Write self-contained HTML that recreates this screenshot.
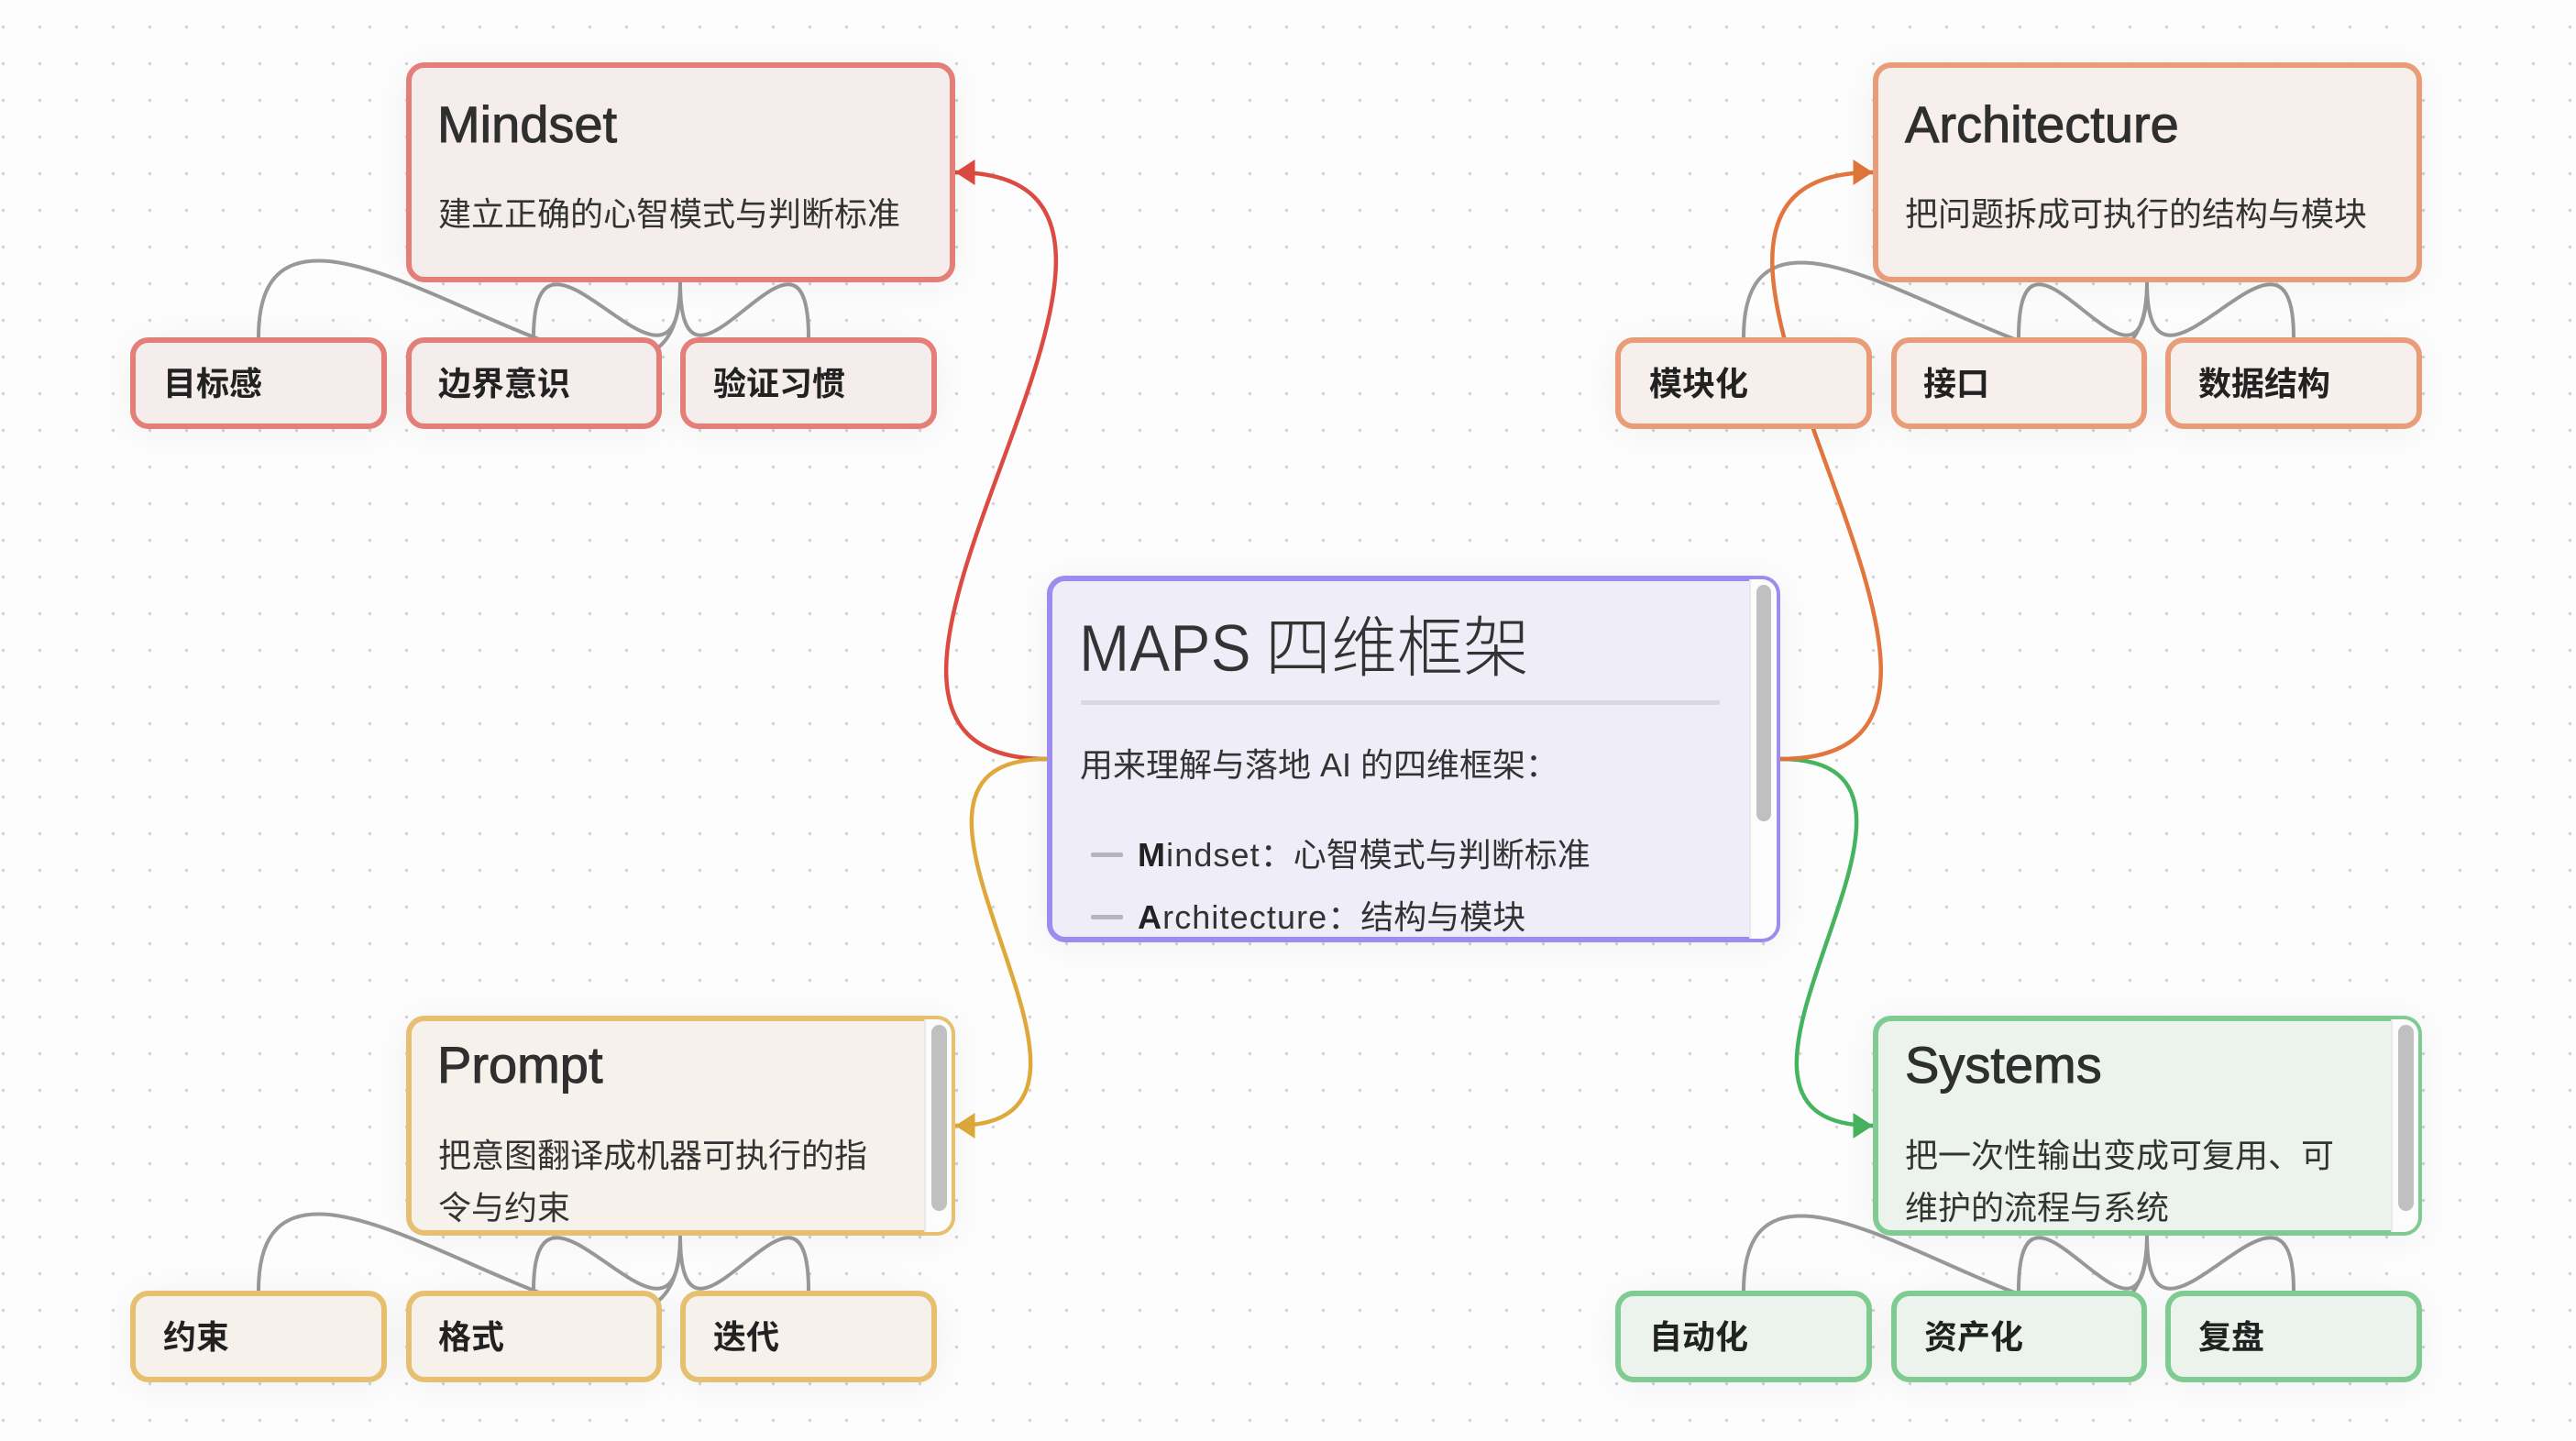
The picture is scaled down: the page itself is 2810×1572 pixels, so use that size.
<!DOCTYPE html>
<html lang="zh">
<head>
<meta charset="utf-8">
<title>MAPS 四维框架</title>
<style>
html,body{margin:0;padding:0;}
body{width:2810px;height:1572px;position:relative;overflow:hidden;background-color:#fdfdfd;
background-image:radial-gradient(circle,#d2d2d2 1.4px,rgba(210,210,210,0) 2px);background-size:40px 40px;background-position:-16.5px 9.5px;
font-family:"Liberation Sans","Noto Sans CJK SC",sans-serif;color:#333;}
svg.edges{position:absolute;left:0;top:0;}
.card{position:absolute;box-sizing:border-box;border:6px solid;border-radius:20px;box-shadow:0 4px 44px rgba(0,0,0,.055);z-index:2;}
.main{width:599px;height:240px;}
.sub{width:279px;height:100px;}
.clip{position:absolute;left:-2px;right:-2px;top:-2px;bottom:-2px;border-radius:16px;overflow:hidden;}
.track{position:absolute;right:0;top:0;bottom:0;width:28px;background:#fcfcfc;border-left:2px solid #e9e9e9;}
.thumb{position:absolute;background:#c0c0c0;border-radius:9px;}
.t{position:absolute;white-space:nowrap;line-height:1;}
.h{font-size:56px;-webkit-text-stroke:1px #2f2f2f;color:#2f2f2f;}
.d{font-size:36px;color:#333;}
.s{font-size:36px;font-weight:700;color:#222;}
.red{border-color:#e37e78;background:#f5ecec;}
.ora{border-color:#e99c78;background:#f6efec;}
.yel{border-color:#e6c070;background:#f6f2eb;}
.grn{border-color:#80cb92;background:#ecf3ec;}
.pur{border-color:#9c8cee;background:#eeedf8;}
.dash{position:absolute;background:#b5b5bb;height:5px;width:35px;border-radius:2px;}
.ls{letter-spacing:1.1px;}
</style>
</head>
<body>

<div class="card main red" style="left:443px;top:68px;">
  <span class="t h" style="left:28px;top:34px;">Mindset</span>
  <span class="t d" style="left:29px;top:142px;">建立正确的心智模式与判断标准</span>
</div>
<div class="card sub red" style="left:142px;top:368px;width:280px;"><span class="t s" style="left:30px;top:27px;">目标感</span></div>
<div class="card sub red" style="left:443px;top:368px;"><span class="t s" style="left:29px;top:27px;">边界意识</span></div>
<div class="card sub red" style="left:742px;top:368px;width:280px;"><span class="t s" style="left:30px;top:27px;">验证习惯</span></div>

<div class="card main ora" style="left:2043px;top:68px;">
  <span class="t h" style="left:29px;top:34px;">Architecture</span>
  <span class="t d" style="left:29px;top:142px;">把问题拆成可执行的结构与模块</span>
</div>
<div class="card sub ora" style="left:1762px;top:368px;width:280px;"><span class="t s" style="left:31px;top:27px;">模块化</span></div>
<div class="card sub ora" style="left:2063px;top:368px;"><span class="t s" style="left:29px;top:27px;">接口</span></div>
<div class="card sub ora" style="left:2362px;top:368px;width:280px;"><span class="t s" style="left:30px;top:27px;">数据结构</span></div>

<div class="card main yel" style="left:443px;top:1108px;">
  <div class="clip">
    <span class="t h" style="left:30px;top:22px;">Prompt</span>
    <span class="t d" style="left:31px;top:131px;">把意图翻译成机器可执行的指</span>
    <span class="t d" style="left:31px;top:188px;">令与约束</span>
    <div class="track"></div>
    <div class="thumb" style="right:5px;top:6px;width:17px;height:203px;"></div>
  </div>
</div>
<div class="card sub yel" style="left:142px;top:1408px;width:280px;"><span class="t s" style="left:30px;top:27px;">约束</span></div>
<div class="card sub yel" style="left:443px;top:1408px;"><span class="t s" style="left:29px;top:27px;">格式</span></div>
<div class="card sub yel" style="left:742px;top:1408px;width:280px;"><span class="t s" style="left:30px;top:27px;">迭代</span></div>

<div class="card main grn" style="left:2043px;top:1108px;">
  <div class="clip">
    <span class="t h" style="left:31px;top:22px;">Systems</span>
    <span class="t d" style="left:31px;top:131px;">把一次性输出变成可复用、可</span>
    <span class="t d" style="left:31px;top:188px;">维护的流程与系统</span>
    <div class="track"></div>
    <div class="thumb" style="right:5px;top:6px;width:17px;height:203px;"></div>
  </div>
</div>
<div class="card sub grn" style="left:1762px;top:1408px;width:280px;"><span class="t s" style="left:31px;top:27px;">自动化</span></div>
<div class="card sub grn" style="left:2063px;top:1408px;"><span class="t s" style="left:30px;top:27px;">资产化</span></div>
<div class="card sub grn" style="left:2362px;top:1408px;width:280px;"><span class="t s" style="left:30px;top:27px;">复盘</span></div>

<div class="card pur" style="left:1142px;top:628px;width:800px;height:400px;">
  <div class="clip">
    <span class="t" style="left:31px;top:40px;font-size:72px;color:#333;transform:scaleX(.92);transform-origin:left center;-webkit-text-stroke:.5px #eeedf8;">MAPS</span>
    <span class="t" style="left:234px;top:40px;font-size:72px;color:#333;font-weight:300;">四维框架</span>
    <div style="position:absolute;left:33px;top:132px;width:697px;height:5px;background:#d9d7e4;border-radius:2px;"></div>
    <span class="t d" style="left:32px;top:185px;">用来理解与落地 AI 的四维框架：</span>
    <div class="dash" style="left:44px;top:298px;"></div>
    <span class="t d" style="left:95px;top:283px;"><span class="ls"><b style="color:#222;">M</b>indset</span>：心智模式与判断标准</span>
    <div class="dash" style="left:44px;top:366px;"></div>
    <span class="t d" style="left:95px;top:351px;"><span class="ls"><b style="color:#222;">A</b>rchitecture</span>：结构与模块</span>
    <div class="track"></div>
    <div class="thumb" style="right:6px;top:6px;width:16px;height:258px;"></div>
  </div>
</div>

<svg class="edges" width="2810" height="1572" viewBox="0 0 2810 1572" style="z-index:1;" fill="none">
  <g stroke="#999" stroke-width="4">
    <path d="M742 308C742 571 282 105 282 368"/>
    <path d="M742 308C742 480 582 196 582 368"/>
    <path d="M742 308C742 480 882 196 882 368"/>
    <path d="M2342 308C2342 564 1902 112 1902 368"/>
    <path d="M2342 308C2342 480 2202 196 2202 368"/>
    <path d="M2342 308C2342 480 2502 196 2502 368"/>
    <g transform="translate(0 1040)">
      <path d="M742 308C742 571 282 105 282 368"/>
      <path d="M742 308C742 480 582 196 582 368"/>
      <path d="M742 308C742 480 882 196 882 368"/>
      <path d="M2342 308C2342 564 1902 112 1902 368"/>
      <path d="M2342 308C2342 480 2202 196 2202 368"/>
      <path d="M2342 308C2342 480 2502 196 2502 368"/>
    </g>
  </g>
  <g stroke-width="4.5">
    <path stroke="#dc4b41" d="M1142 828C807 828 1377 188 1042 188"/>
    <path stroke="#dea93a" d="M1142 828C906 828 1278 1228 1042 1228"/>
    <path stroke="#45b45f" d="M1942 828C2181 828 1804 1228 2043 1228"/>
    <path stroke="#e2763c" d="M1942 828C2276 828 1709 188 2043 188"/>
  </g>
  <polygon fill="#dc4b41" points="1042,188 1063.5,174 1063.5,202"/>
  <polygon fill="#dea93a" points="1042,1228 1063.5,1214 1063.5,1242"/>
  <polygon fill="#e2763c" points="2043,188 2021.5,174 2021.5,202"/>
  <polygon fill="#45b45f" points="2043,1228 2021.5,1214 2021.5,1242"/>
</svg>
</body>
</html>
